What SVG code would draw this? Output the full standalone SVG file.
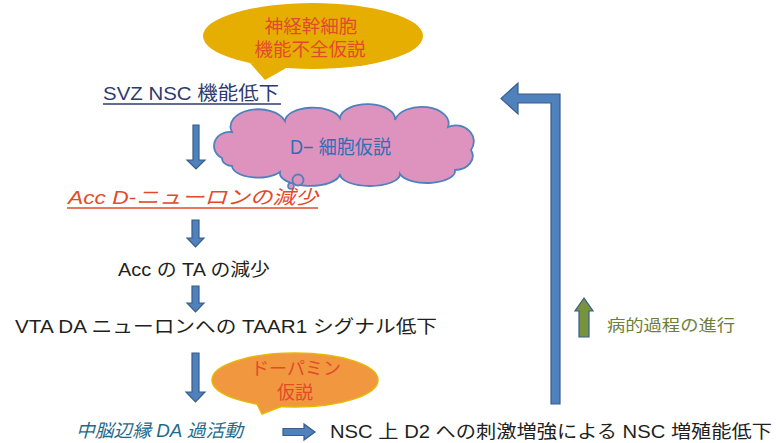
<svg xmlns="http://www.w3.org/2000/svg" width="776" height="443" viewBox="0 0 776 443">
<defs>
<style>
text{font-family:"Liberation Sans","Noto Sans CJK JP",sans-serif;}
.blk{fill:#231f20;font-size:18px;}
.red{fill:#e34a2a;}
.arr{fill:#4f81bd;stroke:#385d8a;stroke-width:1.2;}
</style>
</defs>
<rect width="776" height="443" fill="#ffffff"/>

<g id="connectors">
<path class="arr" d="M193 125 H199 V160 H205 L196 169 L187 160 H193 Z"/>
<path class="arr" d="M192 220 H199 V238 H204 L195.5 247 L187 238 H192 Z"/>
<path class="arr" d="M192 286 H199 V303 H204 L195.5 312 L187 303 H192 Z"/>
<path class="arr" d="M192 353 H199 V392 H205 L195.5 402 L186 392 H192 Z"/>
<path class="arr" d="M283 428.5 H304 V424 L315 432 L304 440 V435.5 H283 Z"/>
<path class="arr" d="M551 404 V103 H518 V114 L501 98.5 L518 83 V94 H560 V404 Z"/>
<path d="M579 337 V311 H575 L584 298 L593 311 H589 V337 Z" fill="#77933c" stroke="#385d8a" stroke-width="1.2"/>
</g>

<g id="callout-nsc">
<path d="M250 63 L265 80 L288 67 Z" fill="#e6ae00"/>
<ellipse cx="313" cy="36" rx="110" ry="33" fill="#e6ae00"/>
<text x="311" y="33" text-anchor="middle" class="red" font-size="18.5">神経幹細胞</text>
<text x="310" y="56" text-anchor="middle" class="red" font-size="18.5">機能不全仮説</text>
</g>

<g id="svz">
<text x="103" y="100" fill="#2e3a6e" font-size="19" textLength="176" lengthAdjust="spacingAndGlyphs">SVZ NSC 機能低下</text>
<line x1="103" y1="104" x2="281" y2="104" stroke="#2e3a6e" stroke-width="1.3"/>
</g>

<g id="cloud-d">
<path d="M222 158 A16 14 0 0 1 232 132 A26 16 0 0 1 285 121 A28 14 0 0 1 340 118 A26 14 0 0 1 395 120 A26 16 0 0 1 448 127 A18 16 0 0 1 471 150 A18 14 0 0 1 455 170 A28 12 0 0 1 400 174 A30 12 0 0 1 340 174 A28 12 0 0 1 280 172 A26 12 0 0 1 232 166 A10 8 0 0 1 222 158 Z" fill="#de93bf" stroke="#4f81bd" stroke-width="1.8"/>
<circle cx="298" cy="180" r="5.5" fill="#de93bf" stroke="#4f81bd" stroke-width="1.8"/>
<circle cx="291" cy="186" r="3" fill="#de93bf" stroke="#4f81bd" stroke-width="1.5"/>
<text x="290" y="154" fill="#2f6fb4" font-size="19.5" textLength="101" lengthAdjust="spacingAndGlyphs">D− 細胞仮説</text>
</g>

<g id="acc-d">
<text x="68" y="204" class="red" font-size="19" font-style="italic" textLength="250" lengthAdjust="spacingAndGlyphs">Acc D-ニューロンの減少</text>
<line x1="67" y1="208" x2="318" y2="208" stroke="#e34a2a" stroke-width="1.3"/>
</g>

<g id="acc-ta">
<text x="118" y="276" class="blk" textLength="152" lengthAdjust="spacingAndGlyphs">Acc の TA の減少</text>
</g>

<g id="vta">
<text x="15" y="333" class="blk" textLength="422" lengthAdjust="spacingAndGlyphs">VTA DA ニューロンへの TAAR1 シグナル低下</text>
</g>

<g id="callout-da">
<path d="M255 400 L262 414 L285 405 Z" fill="#f0973f" stroke="#e6b800" stroke-width="1.5"/>
<ellipse cx="295" cy="380" rx="83" ry="27" fill="#f0973f" stroke="#e6b800" stroke-width="1.5"/>
<path d="M257 401 L262 412 L283 405.5" fill="#f0973f"/>
<text x="296" y="375" text-anchor="middle" class="red" font-size="18">ドーパミン</text>
<text x="295" y="399" text-anchor="middle" class="red" font-size="18">仮説</text>
</g>

<g id="mesolimbic">
<text x="76" y="437" fill="#1f6b8a" font-size="18" font-style="italic" textLength="167" lengthAdjust="spacingAndGlyphs">中脳辺縁 DA 過活動</text>
</g>

<g id="nsc-d2">
<text x="330" y="438" class="blk" font-size="19" textLength="442" lengthAdjust="spacingAndGlyphs">NSC 上 D2 への刺激増強による NSC 増殖能低下</text>
</g>

<g id="legend">
<text x="607" y="331" fill="#6e7f3a" font-size="16" textLength="128" lengthAdjust="spacingAndGlyphs">病的過程の進行</text>
</g>
</svg>
